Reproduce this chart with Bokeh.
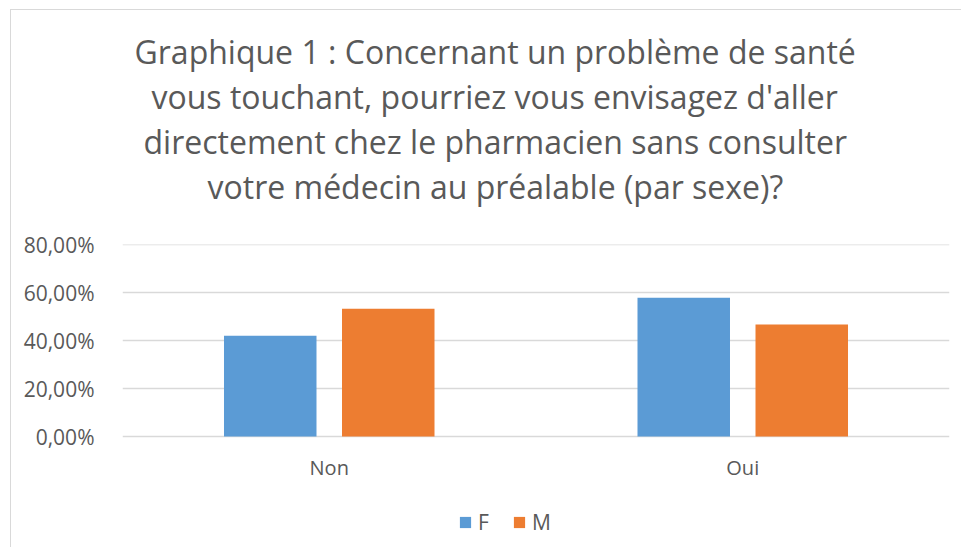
from bokeh.plotting import figure
from bokeh.models import (FactorRange, Range1d, FixedTicker, Title, Legend, LegendItem,
                          ColumnDataSource, CategoricalAxis)
from bokeh.transform import dodge
from bokeh.embed import file_html
from bokeh.resources import INLINE

categories = ["Non", "Oui"]
f_values = [0.421, 0.579]
m_values = [0.533, 0.467]
series_names = ["F", "M"]
y_ticks = [0.0, 0.2, 0.4, 0.6, 0.8]
y_tick_labels = ["0,00%", "20,00%", "40,00%", "60,00%", "80,00%"]
title_lines = ["Graphique 1 : Concernant un problème de santé",
               "vous touchant, pourriez vous envisagez d'aller",
               "directement chez le pharmacien sans consulter",
               "votre médecin au préalable (par sexe)?"]
# horizontal placement of each title line (pixels from the plot area's left edge)
title_offsets = [12, 29, 21, 85]

FONT = "Open Sans"
GREY = "#595959"
BLUE = "#5B9BD5"
ORANGE = "#ED7D31"
GRID = "#D9D9D9"

src = ColumnDataSource(dict(cat=categories, F=f_values, M=m_values))

p = figure(x_range=FactorRange(*categories, range_padding=0), y_range=Range1d(-0.45, 0.801),
           frame_width=827, frame_height=300, width=950, height=537,
           min_border_left=111, min_border_right=12, min_border_top=234, min_border_bottom=3,
           x_axis_location=None,
           output_backend="svg", toolbar_location=None, tools="")
p.margin = (9, 0, 0, 10)
p.styles = {"border-left": "1.5px solid #D9D9D9", "border-top": "1.5px solid #D9D9D9"}

r_f = p.vbar(x=dodge("cat", -0.1427, range=p.x_range), top="F", width=0.2237, source=src,
             fill_color=BLUE, line_color=None)
r_m = p.vbar(x=dodge("cat", 0.1427, range=p.x_range), top="M", width=0.2237, source=src,
             fill_color=ORANGE, line_color=None)

p.title = None
# spacer between title block and plot area (first added sits closest to the frame)
p.add_layout(Title(text=" ", text_font_size="1px", standoff=34), "above")
for line, off in zip(reversed(title_lines), reversed(title_offsets)):
    t = Title(text=line, align="left", text_font=FONT, text_font_size="32px",
              text_font_style="normal", text_color=GREY, offset=off, standoff=0)
    p.add_layout(t, "above")

p.yaxis.ticker = FixedTicker(ticks=y_ticks)
p.yaxis.major_label_overrides = {v: l for v, l in zip(y_ticks, y_tick_labels)}
p.yaxis.axis_line_color = None
p.yaxis.major_tick_line_color = None
p.yaxis.minor_tick_line_color = None
p.yaxis.major_label_text_font = FONT
p.yaxis.major_label_text_font_size = "21px"
p.yaxis.major_label_text_color = GREY
p.yaxis.major_label_standoff = 22

xaxis = CategoricalAxis(fixed_location=0)
xaxis.axis_line_color = None
xaxis.major_tick_line_color = None
xaxis.minor_tick_line_color = None
xaxis.major_label_text_font = FONT
xaxis.major_label_text_font_size = "20px"
xaxis.major_label_text_color = GREY
xaxis.major_label_standoff = 11
p.add_layout(xaxis, "below")

p.xgrid.grid_line_color = None
p.ygrid.grid_line_color = GRID
p.ygrid.grid_line_width = 1.5
p.outline_line_color = None
p.background_fill_color = "white"
p.border_fill_color = "white"

legend = Legend(items=[LegendItem(label=series_names[0], renderers=[r_f]),
                       LegendItem(label=series_names[1], renderers=[r_m])],
                orientation="horizontal", location=(336, 8),
                glyph_width=14, glyph_height=14, label_standoff=6, spacing=14,
                padding=0, margin=0, border_line_color=None, background_fill_alpha=0,
                label_text_font=FONT, label_text_font_size="21px", label_text_color=GREY,
                label_height=14)
p.add_layout(legend, "center")

open("out.html", "w").write(file_html(p, INLINE))
